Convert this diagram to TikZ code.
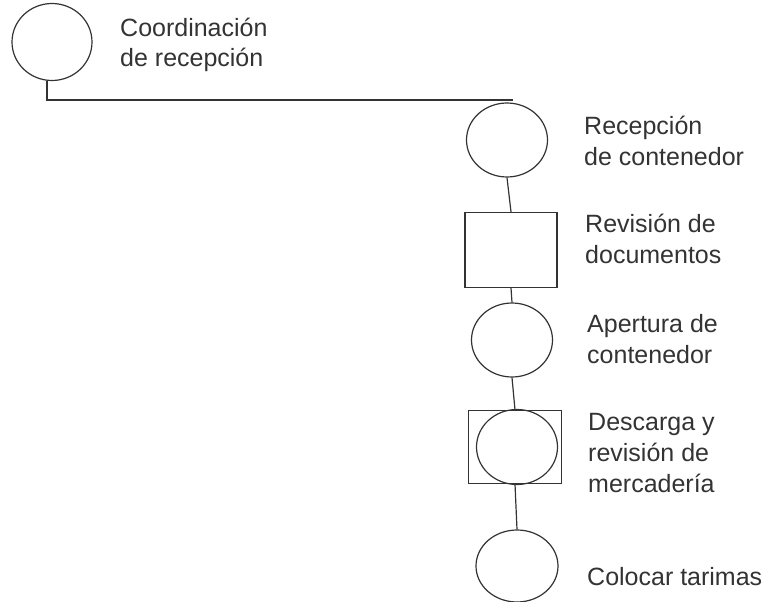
\documentclass[tikz,border=0pt]{standalone}
\usepackage{fontspec}
\setmainfont{Liberation Sans}
\usetikzlibrary{shapes.geometric}
\definecolor{ink}{HTML}{333333}
\begin{document}
\begin{tikzpicture}[x=1pt,y=-1pt,
  oval/.style={draw=ink,line width=1.2pt,ellipse,inner sep=0pt},
  boxnode/.style={draw=ink,line width=1.2pt,rectangle,inner sep=0pt},
  conn/.style={draw=ink,line width=1.2pt},
  lbl/.style={anchor=base west,align=left,inner sep=0pt,text=ink,
    font=\fontsize{25}{31}\selectfont}]
\useasboundingbox (0,0) rectangle (772,602);
\node[oval,minimum width=80pt,minimum height=77pt] (c1) at (52,42) {};
\node[oval,minimum width=81pt,minimum height=74pt] (c2) at (507,140) {};
\node[boxnode,minimum width=92pt,minimum height=75pt] (s1) at (511,250) {};
\node[oval,minimum width=81pt,minimum height=74pt] (c3) at (512,340) {};
\node[boxnode,minimum width=93pt,minimum height=73pt] (s2) at (515,447) {};
\node[oval,minimum width=81pt,minimum height=75pt] (c4) at (517,447) {};
\node[oval,minimum width=82pt,minimum height=72pt] (c5) at (517,566) {};
\coordinate (j) at (513,100);
\draw[conn] ([xshift=-5pt]c1.south) |- (j);
\draw[conn] (c2.south) -- (s1.north);
\draw[conn] (s1.south) -- (c3.north);
\draw[conn] (c3.south) -- (s2.north);
\draw[conn] (s2.south) -- (c5.north);
\node[lbl] (t1) at (120,67) {Coordinación\\de recepción};
\node[lbl] (t2) at (584,165) {Recepción\\de contenedor};
\node[lbl] (t3) at (585,263) {Revisión de\\documentos};
\node[lbl] (t4) at (587,363) {Apertura de\\contenedor};
\node[lbl] (t5) at (588,492) {Descarga y\\revisión de\\mercadería};
\node[lbl] (t6) at (587,585) {Colocar tarimas};
\end{tikzpicture}
\end{document}
